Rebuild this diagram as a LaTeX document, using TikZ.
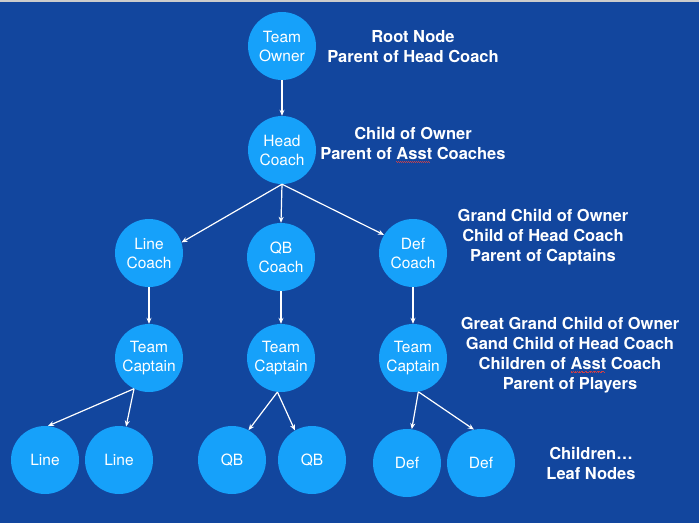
\documentclass[tikz,border=0pt]{standalone}
\usepackage{fontspec}
\setmainfont{TeX Gyre Heros}
\usetikzlibrary{arrows.meta}
\definecolor{bgblue}{HTML}{12469E}
\definecolor{nodeblue}{HTML}{16A1FA}
\definecolor{spellred}{HTML}{C8404A}
\newcommand\spellmark[1]{\setbox0\hbox{#1}\rlap{\color{spellred}\leaders\hbox{\rule[-2.5pt]{1pt}{0.5pt}\rule[-3.0pt]{1pt}{0.5pt}}\hskip\wd0\relax}\box0\relax}
\begin{document}
\begin{tikzpicture}[x=1pt,y=-1pt,
  member/.style={circle,fill=nodeblue,minimum size=68pt,inner sep=0pt,text=white,align=center,font=\fontsize{15.5}{19}\selectfont},
  role/.style={text=white,align=center,anchor=base,font=\fontsize{16.5}{19.8}\selectfont\bfseries},
  link/.style={draw=white,line width=1.2pt,-{Stealth[length=6pt,width=5pt]}}]
\fill[bgblue] (0,0) rectangle (699,523);
\fill[gray!40] (0,0) rectangle (699,2);

\node[member] (owner) at (282,46) {Team\\Owner};
\node[member] (head) at (282,150) {Head\\Coach};
\node[member] (lcoach) at (149,253) {Line\\Coach};
\node[member] (qcoach) at (281,257) {QB\\Coach};
\node[member] (dcoach) at (413,253) {Def\\Coach};
\node[member] (lcapt) at (149,358) {Team\\Captain};
\node[member] (qcapt) at (281,358) {Team\\Captain};
\node[member] (dcapt) at (413,358) {Team\\Captain};
\node[member] (l1) at (45,460) {Line};
\node[member] (l2) at (119,460) {Line};
\node[member] (q1) at (232,460) {QB};
\node[member] (q2) at (312,460) {QB};
\node[member] (d1) at (407,463) {Def};
\node[member] (d2) at (481,463) {Def};

\draw[link] (owner) -- (head);
\draw[link] (head.south) -- (lcoach.18);
\draw[link] (head.south) -- (qcoach.north);
\draw[link] (head.south) -- (dcoach.148);
\draw[link] (lcoach) -- (lcapt);
\draw[link] (qcoach) -- (qcapt);
\draw[link] (dcoach) -- (dcapt);
\draw[link] (lcapt.-116) -- (l1.85);
\draw[link] (lcapt.-116) -- (l2.78);
\draw[link] (qcapt.-96) -- (q1.61);
\draw[link] (qcapt.-96) -- (q2.120);
\draw[link] (dcapt.-81) -- (d1.82);
\draw[link] (dcapt.-81) -- (d2.102);

\node[role] (rootlbl) at (413,62) {Root Node\\Parent of Head Coach};
\node[role] (headlbl) at (413,159) {Child of Owner\\Parent of \spellmark{Asst} Coaches};
\node[role] (coachlbl) at (543,261) {Grand Child of Owner\\Child of Head Coach\\Parent of Captains};
\node[role] (captlbl) at (570,389) {Great Grand Child of Owner\\Gand Child of Head Coach\\Children of \spellmark{Asst} Coach\\Parent of Players};
\node[role] (leaflbl) at (591,479) {Children…\\Leaf Nodes};
\end{tikzpicture}
\end{document}
